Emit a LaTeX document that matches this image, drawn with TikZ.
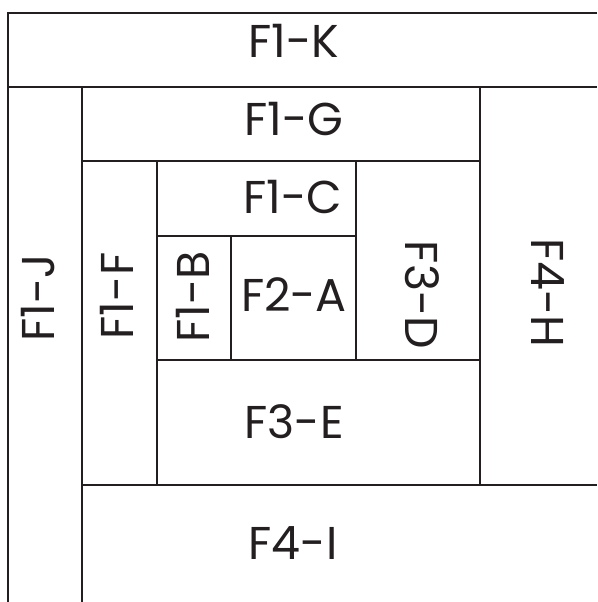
\documentclass[tikz,border=0pt]{standalone}
\usepackage{fontspec}
\setmainfont{Poppins}
\usepackage{xcolor}
\usepackage{tikz}
\usetikzlibrary{positioning}
\definecolor{PanelLine}{RGB}{35,31,32}

\begin{document}
\begin{tikzpicture}[x=1pt, y=-1pt, line width=1.9pt,
	lab/.style={inner sep=0pt, text height=33pt, text depth=0pt,
		font=\fontsize{46}{46}\selectfont, text=PanelLine}]
		\useasboundingbox (0,0) rectangle (597,602);
		
		% outer frame and top strip
		\draw[PanelLine] (597,13) -- (8,13) -- (8,602);
		\draw[PanelLine] (8,87) -- (597,87);
		
		% second ring
		\draw[PanelLine] (82,87) -- (82,602);
		\draw[PanelLine] (82,161) -- (480,161);
		\draw[PanelLine] (480,87) -- (480,485);
		\draw[PanelLine] (82,485) -- (597,485);
		
		% third ring
		\draw[PanelLine] (157,161) -- (157,485);
		\draw[PanelLine] (157,360) -- (480,360);
		\draw[PanelLine] (356,161) -- (356,360);
		
		% centre
		\draw[PanelLine] (157,236) -- (356,236);
		\draw[PanelLine] (231,236) -- (231,360);
		
		% labels
		\node[lab] (K) at (294,41.5) {F1-K};
		\node[lab, rotate=90] (J) at (38,298) {F1-J};
		\node[lab] (G) at (294,119) {F1-G};
		\node[lab, rotate=-90] (H) at (548,293) {F4-H};
		\node[lab] (I) at (293,543) {F4-I};
		\node[lab, rotate=90] (F) at (117,296) {F1-F};
		\node[lab] (E) at (294,422) {F3-E};
		\node[lab, rotate=-90] (D) at (422,295) {F3-D};
		\node[lab] (C) at (293,197) {F1-C};
		\node[lab, rotate=90] (B) at (193,297) {F1-B};
		\node[lab] (A) at (294,295) {F2-A};
		
	\end{tikzpicture}
\end{document}
